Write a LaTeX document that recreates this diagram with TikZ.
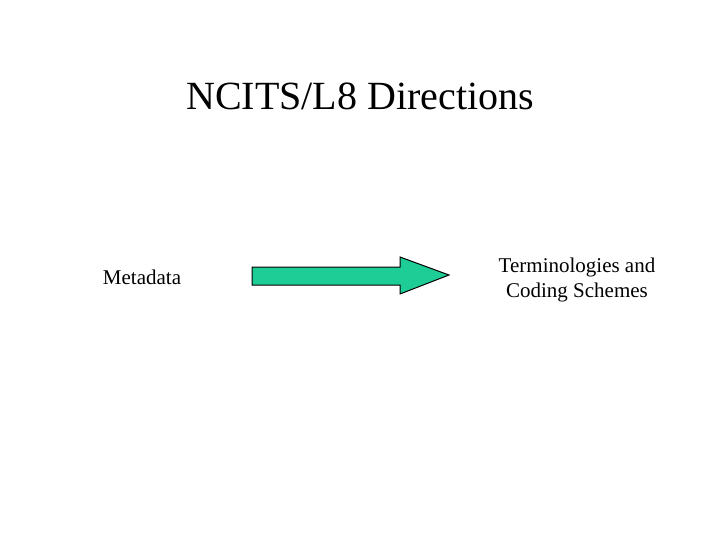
\documentclass[tikz,border=0pt]{standalone}
\usepackage{fontspec}
\setmainfont{Liberation Serif}
\definecolor{arrowgreen}{RGB}{30,204,150}
\begin{document}
\begin{tikzpicture}[x=1pt,y=-1pt,
  lbl/.style={inner sep=0pt,font=\fontsize{21}{25}\selectfont,align=center},
  blockarrow/.style={fill=arrowgreen,draw=black,line width=1pt,line join=miter}]
\useasboundingbox (0,0) rectangle (720,540);
\node[inner sep=0pt,font=\fontsize{40}{48}\selectfont] (title) at (360,96) {NCITS/L8 Directions};
\node[lbl] (meta) at (142,277) {Metadata};
\node[lbl] (term) at (577,280) {Terminologies and\\Coding Schemes};
\draw[blockarrow] (252,267) -- (400,267) -- (400,257) -- (449,275) -- (400,294) -- (400,285) -- (252,285) -- cycle;
\end{tikzpicture}
\end{document}
